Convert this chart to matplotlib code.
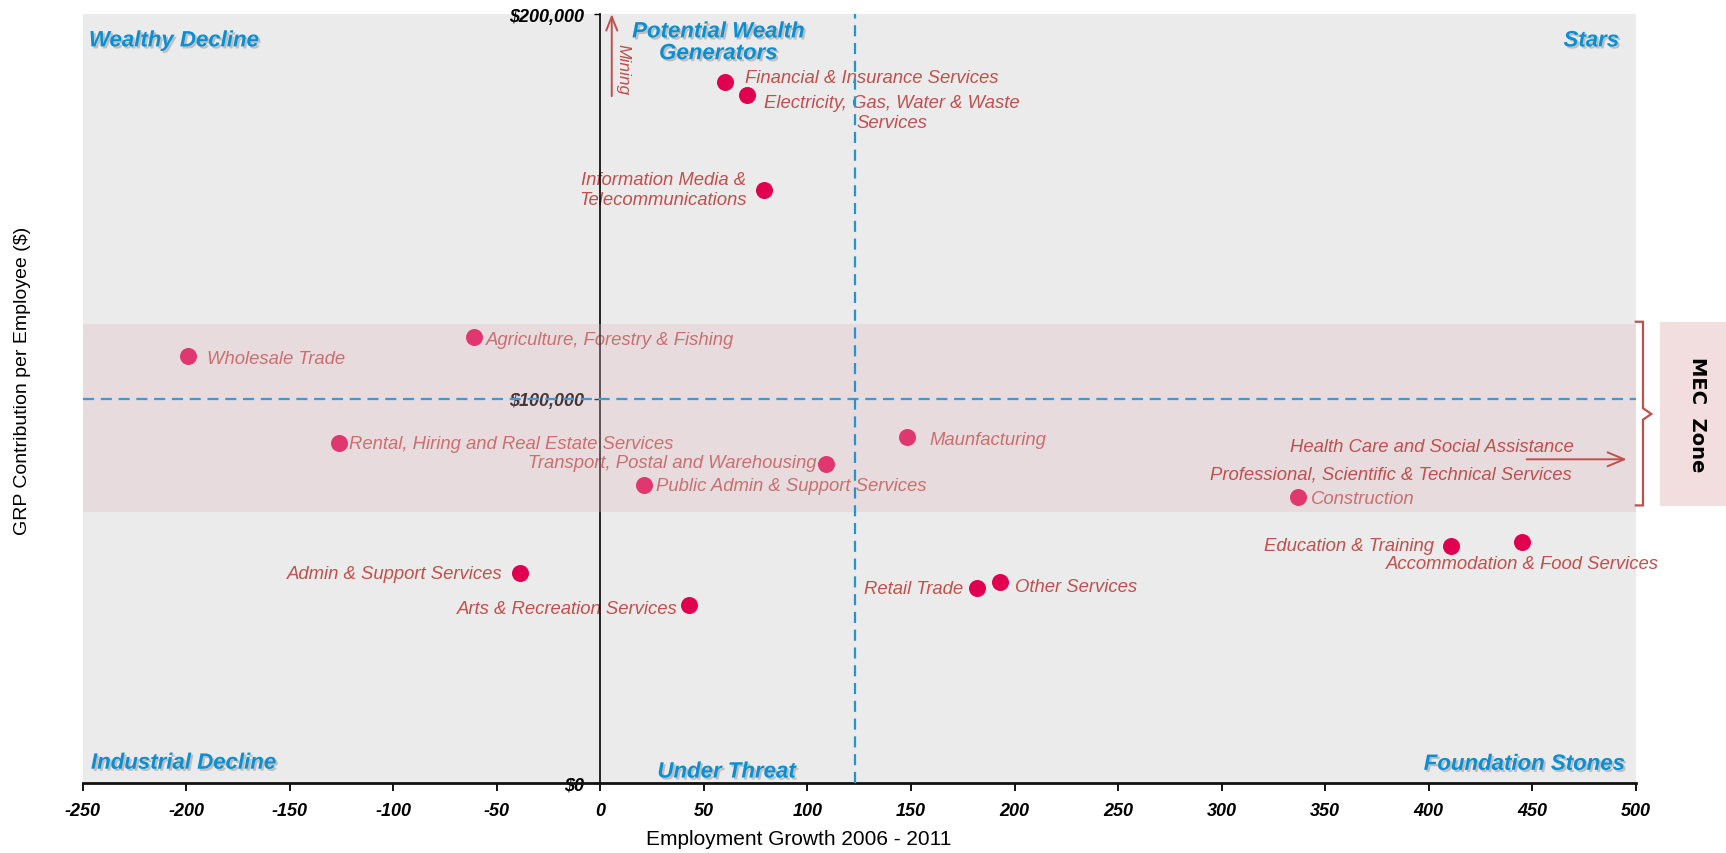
import matplotlib
matplotlib.use("Agg")
import matplotlib.pyplot as plt
import matplotlib.patheffects as pe
from matplotlib.path import Path
from matplotlib.patches import PathPatch, Rectangle
from matplotlib.ticker import FuncFormatter

plt.rcParams["axes.unicode_minus"] = False

# ---- data -----------------------------------------------------------------
industries = [
    "Financial & Insurance Services",
    "Electricity, Gas, Water & Waste\nServices",
    "Information Media &\nTelecommunications",
    "Agriculture, Forestry & Fishing",
    "Wholesale Trade",
    "Rental, Hiring and Real Estate Services",
    "Transport, Postal and Warehousing",
    "Public Admin & Support Services",
    "Maunfacturing",
    "Construction",
    "Education & Training",
    "Accommodation & Food Services",
    "Retail Trade",
    "Other Services",
    "Admin & Support Services",
    "Arts & Recreation Services",
]
employment_growth = [60, 71, 79, -61, -199, -126, 109, 21, 148, 337, 411, 445, 182, 193, -39, 43]
grp_per_employee = [182500, 179100, 154400, 116000, 111200, 88500, 83100, 77600,
                    90000, 74500, 61600, 62700, 50700, 52200, 54700, 46400]

# industries that sit beyond the plotted range
offscale_right = ["Health Care and Social Assistance",
                  "Professional, Scientific & Technical Services"]
offscale_top = "Mining"

x_ticks = [-250, -200, -150, -100, -50, 0, 50, 100, 150, 200, 250, 300, 350, 400, 450, 500]
y_ticks = [0, 100000, 200000]
mec_zone = (70500, 119500)
growth_threshold = 123
grp_threshold = 100000

quadrants = ["Wealthy Decline", "Potential Wealth\nGenerators", "Stars",
             "Industrial Decline", "Under Threat", "Foundation Stones"]

# ---- label placement (pixel offsets from each marker) ---------------------
label_layout = [
    (20, 4, "left"), (17, -18, "left"), (-17, 0, "right"), (12, -2, "left"),
    (19, -3, "left"), (10, -1, "left"), (-10, 1, "right"), (12, -1, "left"),
    (23, -2, "left"), (13, -2, "left"), (-17, 1, "right"), (1, -22, "center"),
    (-14, 0, "right"), (15, -4, "left"), (-17, -1, "right"), (-12, -4, "right"),
]
quadrant_layout = [
    (-247, 193100, "left"), (57, 192600, "center"), (492, 193100, "right"),
    (-246, 5100, "left"), (61, 2800, "center"), (495, 4800, "right"),
]

NARROW = ["Liberation Sans Narrow", "Liberation Sans", "DejaVu Sans"]
LABEL_RED = "#C0504D"
POINT_RED = "#E0004F"
QUAD_BLUE = "#0A8FD2"

fig = plt.figure(figsize=(17.26, 8.54), dpi=100)
ax = fig.add_axes([0.0479, 0.0822, 0.8998, 0.8998])
ax.set_facecolor("#EBEBEB")
ax.set_xlim(-250, 500)
ax.set_ylim(0, 200000)

# scatter points and their labels
ax.scatter(employment_growth, grp_per_employee, s=150, color=POINT_RED,
           zorder=2, linewidths=0)
for name, x, y, (dx, dy, ha) in zip(industries, employment_growth,
                                      grp_per_employee, label_layout):
    ax.annotate(name, (x, y), xytext=(dx, dy), textcoords="offset pixels",
                ha=ha, va="center", multialignment="center",
                fontsize=13.3, style="italic", color=LABEL_RED,
                family=NARROW, zorder=2)

# MEC zone band drawn over the points
ax.axhspan(mec_zone[0], mec_zone[1], color="#E1B9C0", alpha=0.3, zorder=3,
           linewidth=0)

# threshold lines
ax.axhline(grp_threshold, color="#3D9AD6", linestyle=(0, (5, 3)), lw=1.6,
           zorder=4, clip_on=False)
ax.axvline(growth_threshold, color="#1E96D6", linestyle=(0, (5, 3)), lw=1.6,
           zorder=4)

# off-scale industries
ax.text(470, 87400, offscale_right[0], ha="right", va="center", fontsize=13.3,
        style="italic", color=LABEL_RED, family=NARROW, zorder=5)
ax.text(469, 80500, offscale_right[1], ha="right", va="center", fontsize=13.3,
        style="italic", color=LABEL_RED, family=NARROW, zorder=5)
ax.annotate("", xy=(497, 84200), xytext=(446, 84200),
            arrowprops=dict(arrowstyle="->,head_length=1.2,head_width=0.5",
                            color=LABEL_RED, lw=1.4), zorder=5,
            annotation_clip=False)
ax.annotate("", xy=(5.5, 200800), xytext=(5.5, 178000),
            arrowprops=dict(arrowstyle="->,head_length=1.0,head_width=0.4",
                            color=LABEL_RED, lw=1.4), zorder=5,
            annotation_clip=False)
ax.text(11, 185800, offscale_top, rotation=-90, ha="center", va="center",
        fontsize=12.5, style="italic", color=LABEL_RED, family=NARROW, zorder=5)

# quadrant names
shadow = [pe.SimplePatchShadow(offset=(1.5, -1.5), shadow_rgbFace="#888888",
                               alpha=0.45), pe.Normal()]
for name, (qx, qy, ha) in zip(quadrants, quadrant_layout):
    ax.text(qx, qy, name, ha=ha, va="center", multialignment="center",
            fontsize=16, weight="bold", style="italic", color=QUAD_BLUE,
            family=NARROW, zorder=6, path_effects=shadow, linespacing=1.05)

# bracket marking the MEC zone
bx0, bx1, bxm = 499.5, 503.5, 507.5
ytop, ybot, ymid = 120000, 72200, 96000
verts = [(bx0, ytop), (bx1, ytop), (bx1, ymid + 1500), (bxm, ymid),
         (bx1, ymid - 1500), (bx1, ybot), (bx0, ybot)]
ax.add_patch(PathPatch(Path(verts), fill=False, edgecolor=LABEL_RED, lw=1.6,
                       clip_on=False, zorder=5))

# MEC zone tag in the right margin
fig.patches.append(Rectangle((1660 / 1726, 1 - 507 / 854), 66 / 1726,
                             184 / 854, transform=fig.transFigure,
                             facecolor="#F2DEDE", edgecolor="none"))
fig.text(1697 / 1726, 1 - 415 / 854, "MEC  Zone", rotation=-90, ha="center",
         va="center", fontsize=14, weight="bold", color="black",
         family="DejaVu Sans")

# axes styling
for side in ("top", "right"):
    ax.spines[side].set_visible(False)
ax.spines["left"].set_position(("data", 0))
ax.spines["left"].set_color("black")
ax.spines["left"].set_linewidth(1.2)
ax.spines["bottom"].set_color("#111111")
ax.spines["bottom"].set_linewidth(2.0)

ax.set_xticks(x_ticks)
ax.set_yticks(y_ticks)
ax.yaxis.set_major_formatter(FuncFormatter(lambda v, p: f"${v:,.0f}"))
ax.tick_params(axis="x", direction="out", length=6, width=1.3, pad=8)
ax.tick_params(axis="y", direction="out", length=4, width=1.0, pad=8)
for lab in ax.get_xticklabels() + ax.get_yticklabels():
    lab.set_family(NARROW)
    lab.set_fontsize(13)
    lab.set_weight("bold")
    lab.set_style("italic")
    lab.set_color("black")

fig.text(20 * 1.1008 / 1726, 1 - 346 * 1.1008 / 854,
         "GRP Contribution per Employee ($)", rotation=90, ha="center",
         va="center", fontsize=14, family="Liberation Sans")
fig.text(726 * 1.1008 / 1726, 1 - 763 * 1.1008 / 854,
         "Employment Growth 2006 - 2011", ha="center", va="center",
         fontsize=15, family="Liberation Sans")

fig.savefig("out.png", dpi=100)
